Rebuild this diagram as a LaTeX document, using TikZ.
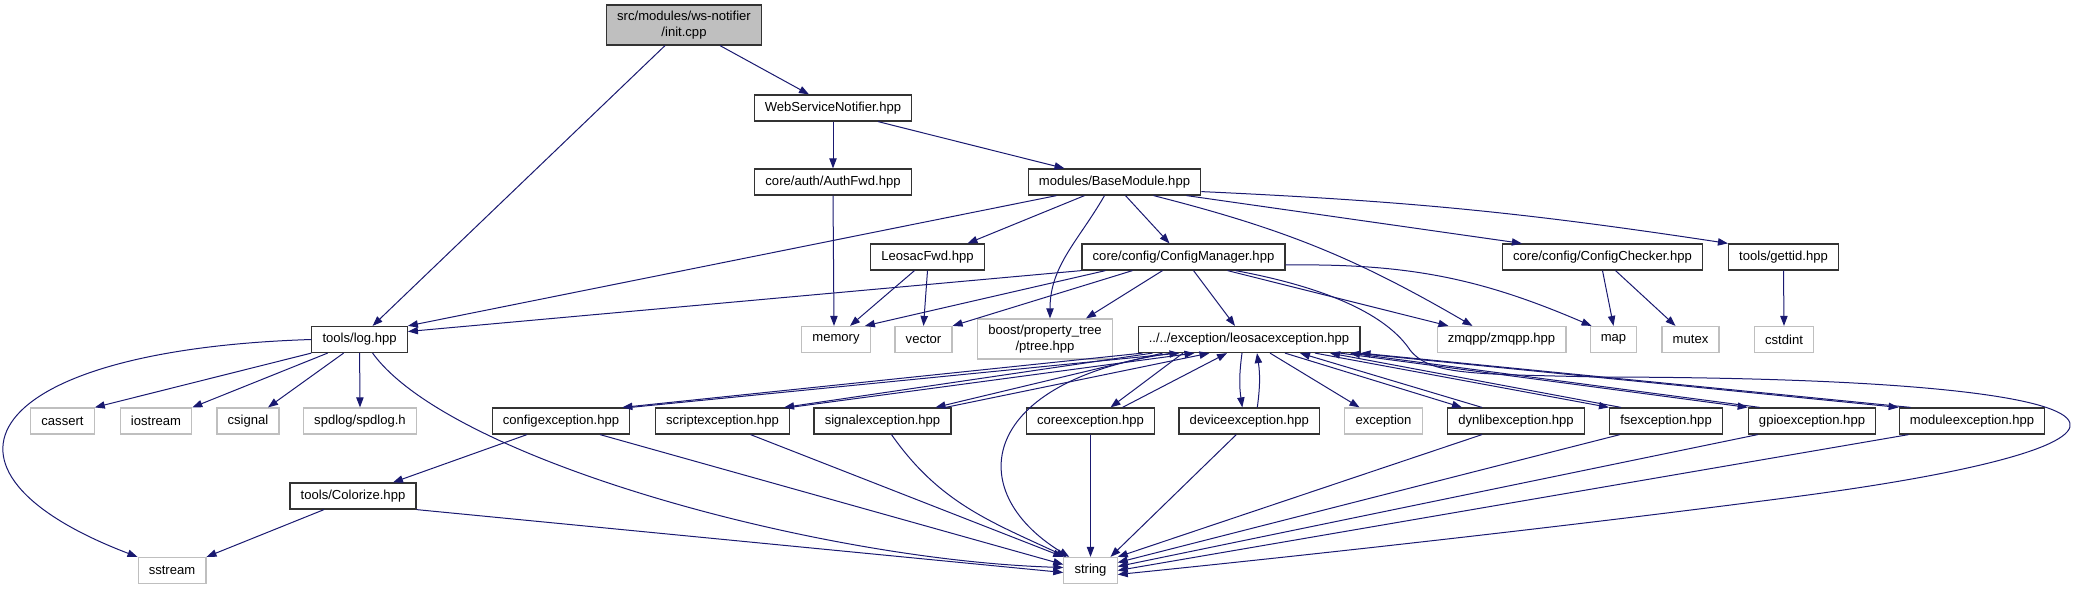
\documentclass[tikz,border=0pt]{standalone}
\usepackage{fontspec}
\setmainfont{Liberation Sans}
\usetikzlibrary{arrows.meta,calc}
\definecolor{edgeblue}{HTML}{191970}

\begin{document}
\begin{tikzpicture}[x=0.75pt, y=-0.75pt, >={Triangle[length=7.5pt,width=5.5pt]},
    font=\fontsize{9.8pt}{12pt}\selectfont,
    hdr/.style={draw=black!80, line width=0.9pt, fill=white, inner xsep=8pt, inner ysep=2pt, minimum height=19.5pt},
    sys/.style={hdr, draw=black!25},
    root/.style={hdr, fill=black!25, align=center, minimum height=30pt},
    dep/.style={->, draw=edgeblue, line width=0.75pt}]
\useasboundingbox (0,0) rectangle (2073,589);

% files
\node[root] (init) at (684,25) {src/modules/ws-notifier\\/init.cpp};
\node[hdr] (wsn) at (833,108) {WebServiceNotifier.hpp};
\node[hdr] (authfwd) at (833,182) {core/auth/AuthFwd.hpp};
\node[hdr] (basemod) at (1114.5,182) {modules/BaseModule.hpp};
\node[hdr] (leosacfwd) at (927.5,257) {LeosacFwd.hpp};
\node[hdr] (cfgmgr) at (1183.5,257) {core/config/ConfigManager.hpp};
\node[hdr] (cfgchk) at (1602.5,257) {core/config/ConfigChecker.hpp};
\node[hdr] (gettid) at (1783.5,257) {tools/gettid.hpp};
\node[hdr] (log) at (359.6,339.5) {tools/log.hpp};
\node[sys] (memory) at (836,339.5) {memory};
\node[sys] (vector) at (923.5,339.5) {vector};
\node[sys, align=center, minimum height=30pt] (boost) at (1045,339) {boost/property\_tree\\/ptree.hpp};
\node[hdr] (leosac) at (1249,339.5) {../../exception/leosacexception.hpp};
\node[sys] (zmqpp) at (1501.5,339.5) {zmqpp/zmqpp.hpp};
\node[sys] (map) at (1613.5,339.5) {map};
\node[sys] (mutex) at (1690.5,339.5) {mutex};
\node[sys] (cstdint) at (1784,339.5) {cstdint};
\node[sys] (cassert) at (62.5,421) {cassert};
\node[sys] (iostream) at (156,421) {iostream};
\node[sys] (csignal) at (248,421) {csignal};
\node[sys] (spdlog) at (360,421) {spdlog/spdlog.h};
\node[hdr] (cfgexc) at (561,421) {configexception.hpp};
\node[hdr] (scriptexc) at (722.5,421) {scriptexception.hpp};
\node[hdr] (signalexc) at (882.5,421) {signalexception.hpp};
\node[hdr] (coreexc) at (1090.5,421) {coreexception.hpp};
\node[hdr] (devexc) at (1249.3,421) {deviceexception.hpp};
\node[sys] (exception) at (1383.5,421) {exception};
\node[hdr] (dynlibexc) at (1516,421) {dynlibexception.hpp};
\node[hdr] (fsexc) at (1666,421) {fsexception.hpp};
\node[hdr] (gpioexc) at (1812,421) {gpioexception.hpp};
\node[hdr] (modexc) at (1972,421) {moduleexception.hpp};
\node[hdr] (colorize) at (353,496) {tools/Colorize.hpp};
\node[sys] (sstream) at (172,570.5) {sstream};
\node[sys] (string) at (1090.5,570.5) {string};

% init.cpp
\draw[dep] ($(init.south)+(-19,0)$) -- ($(log.north)+(13,0)$);
\draw[dep] ($(init.south)+(36,0)$) -- ($(wsn.north)+(-24,0)$);
\draw[dep] (wsn.south) -- (authfwd.north);
\draw[dep] ($(wsn.south)+(45,0)$) -- ($(basemod.north)+(-50,0)$);
\draw[dep] (authfwd.south) -- ($(memory.north)+(-2,0)$);

% BaseModule
\draw[dep] ($(basemod.south)+(-58,0)$) -- (log.north east);
\draw[dep] ($(basemod.south)+(-30,0)$) -- ($(leosacfwd.north)+(40,0)$);
\draw[dep] ($(basemod.south)+(-10,0)$) to[out=-120,in=90] ($(boost.north)+(5,0)$);
\draw[dep] ($(basemod.south)+(11,0)$) -- ($(cfgmgr.north)+(-14,0)$);
\draw[dep] ($(basemod.south)+(39,0)$) to[bend left=8] ($(zmqpp.north west)+(36,0)$);
\draw[dep] ($(basemod.south)+(72,0)$) -- ($(cfgchk.north west)+(20,0)$);
\draw[dep] ($(basemod.south east)+(0,-4)$) to[bend left=3] (gettid.north west);
\draw[dep] ($(leosacfwd.south)+(-13,0)$) -- ($(memory.north)+(14,0)$);
\draw[dep] (leosacfwd.south) -- (vector.north);

% ConfigManager
\draw[dep] (cfgmgr.south west) -- ($(log.east)+(0,-8)$);
\draw[dep] ($(cfgmgr.south)+(-78,0)$) -- ($(memory.north east)+(-6,0)$);
\draw[dep] ($(cfgmgr.south)+(-51,0)$) -- (vector.north east);
\draw[dep] ($(cfgmgr.south)+(-21,0)$) -- ($(boost.north)+(41,0)$);
\draw[dep] ($(cfgmgr.south)+(10,0)$) -- ($(leosac.north)+(-14,0)$);
\draw[dep] ($(cfgmgr.south)+(44,0)$) -- ($(zmqpp.north west)+(12,0)$);
\draw[dep] ($(cfgmgr.east)+(0,8)$) to[bend left=12] ($(map.north west)+(2,0)$);
\draw[dep] ($(cfgmgr.south)+(52,0)$) .. controls (1340,290) and (1390,320) .. (1410,350)
    .. controls (1430,375) and (1470,374) .. (1600,377)
    .. controls (2190,378) and (2190,445) .. (1793,497)
    .. controls (1555,528) and (1300,556) .. ($(string.east)+(0,4)$);
\draw[dep] (cfgchk.south) -- (map.north);
\draw[dep] ($(cfgchk.south)+(13,0)$) -- ($(mutex.north)+(-15,0)$);
\draw[dep] (gettid.south) -- (cstdint.north);

% tools/log.hpp
\draw[dep] (log.west) .. controls (-20,350) and (-90,470) .. (sstream.north west);
\draw[dep] (log.south west) -- (cassert.north east);
\draw[dep] ($(log.south)+(-32,0)$) -- (iostream.north east);
\draw[dep] ($(log.south)+(-16,0)$) -- ($(csignal.north)+(20,0)$);
\draw[dep] (log.south) -- (spdlog.north);
\draw[dep] ($(log.south)+(13,0)$) .. controls (450,460) and (820,560) .. ($(string.west)+(0,-3)$);

% leosacexception and back
\draw[dep] ($(leosac.south west)+(5,0)$) -- ($(cfgexc.north east)+(-8,0)$);
\draw[dep] (cfgexc.north east) -- ($(leosac.south west)+(42,0)$);
\draw[dep] ($(leosac.south west)+(15,0)$) -- ($(scriptexc.north east)+(-6,0)$);
\draw[dep] (scriptexc.north east) -- ($(leosac.south west)+(57,0)$);
\draw[dep] ($(leosac.south west)+(25,0)$) -- ($(signalexc.north east)+(-16,0)$);
\draw[dep] ($(signalexc.north east)+(-6,0)$) -- ($(leosac.south west)+(72,0)$);
\draw[dep] ($(leosac.south)+(-66,0)$) -- ($(coreexc.north)+(20,0)$);
\draw[dep] ($(coreexc.north)+(32,0)$) -- ($(leosac.south)+(-22,0)$);
\draw[dep] ($(leosac.south)+(-7,0)$) to[bend right=8] ($(devexc.north)+(-7,0)$);
\draw[dep] ($(devexc.north)+(8,0)$) to[bend right=8] ($(leosac.south)+(8,0)$);
\draw[dep] ($(leosac.south)+(21,0)$) -- ($(exception.north)+(-24,0)$);
\draw[dep] ($(leosac.south)+(36,0)$) -- ($(dynlibexc.north west)+(15,0)$);
\draw[dep] ($(dynlibexc.north west)+(35,0)$) -- ($(leosac.south)+(51,0)$);
\draw[dep] ($(leosac.south)+(66,0)$) -- (fsexc.north west);
\draw[dep] ($(fsexc.north west)+(12,0)$) -- ($(leosac.south)+(81,0)$);
\draw[dep] ($(leosac.south)+(91,0)$) -- (gpioexc.north west);
\draw[dep] ($(gpioexc.north west)+(12,0)$) -- ($(leosac.south)+(101,0)$);
\draw[dep] ($(leosac.south)+(106,0)$) -- (modexc.north west);
\draw[dep] ($(modexc.north west)+(12,0)$) -- (leosac.south east);
\draw[dep] ($(leosac.south west)+(35,0)$) .. controls (980,380) and (960,490) .. ($(string.north west)+(6,0)$);

% into string
\draw[dep] ($(cfgexc.south)+(39,0)$) -- ($(string.west)+(0,-6)$);
\draw[dep] ($(cfgexc.south)+(-34,0)$) -- ($(colorize.north)+(40,0)$);
\draw[dep] ($(scriptexc.south)+(28,0)$) -- (string.north west);
\draw[dep] ($(signalexc.south)+(9,0)$) to[out=-55,in=155] ($(string.north west)+(3,0)$);
\draw[dep] (coreexc.south) -- (string.north);
\draw[dep] ($(devexc.south)+(-13,0)$) -- ($(string.north)+(20,0)$);
\draw[dep] ($(dynlibexc.south west)+(35,0)$) -- (string.north east);
\draw[dep] ($(fsexc.south west)+(11,0)$) -- ($(string.east)+(0,-8)$);
\draw[dep] ($(gpioexc.south west)+(10,0)$) -- ($(string.east)+(0,-4)$);
\draw[dep] ($(modexc.south west)+(10,0)$) -- (string.east);
\draw[dep] ($(colorize.south)+(-29,0)$) -- (sstream.north east);
\draw[dep] (colorize.south east) -- ($(string.west)+(0,2)$);
\end{tikzpicture}
\end{document}
